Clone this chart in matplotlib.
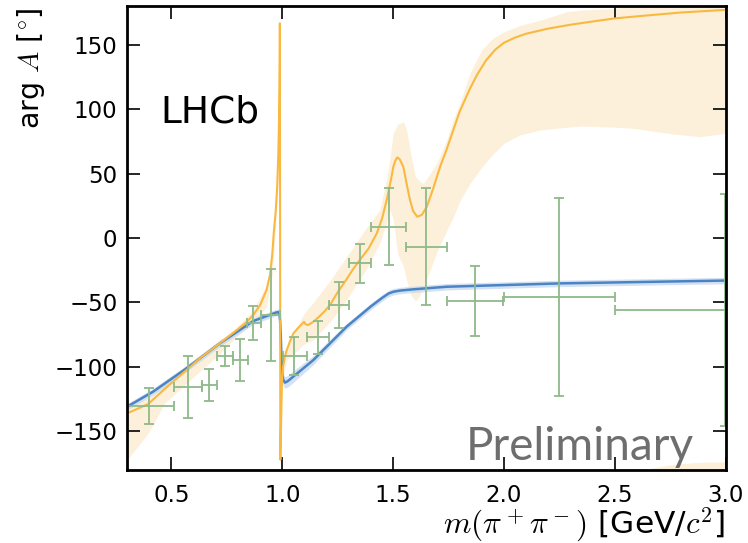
import matplotlib
matplotlib.use('Agg')

import matplotlib.pyplot as plt
import numpy as np

# --- data (x in GeV/c^2, phase in degrees) ---

# yellow model, central line
yel_x = [0.30, 0.395, 0.47, 0.568, 0.63, 0.70, 0.794, 0.84, 0.869, 0.90, 0.929,
         0.945, 0.955, 0.962, 0.970, 0.977, 0.982, 0.985, 0.987, 0.9885, 0.989,
         0.990, 0.991, 0.995, 0.998, 1.003, 1.01, 1.02, 1.035, 1.05, 1.07, 1.09,
         1.098, 1.105, 1.117, 1.14, 1.16, 1.19, 1.215, 1.25, 1.29, 1.32, 1.35,
         1.39, 1.426, 1.45, 1.471, 1.49, 1.501, 1.51, 1.519, 1.53, 1.546, 1.56,
         1.576, 1.59, 1.609, 1.63, 1.652, 1.68, 1.712, 1.74, 1.772, 1.80, 1.847,
         1.88, 1.92, 1.96, 2.0, 2.05, 2.1, 2.2, 2.3, 2.4, 2.5, 2.6, 2.7, 2.8,
         2.9, 3.0]
yel_y = [-136, -128.8, -117, -102.4, -93, -84, -71.5, -65, -59.7, -52, -40.3,
         -28, -12, 5, 20, 40, 65, 90, 115, 140, 166.6,
         40, -172, -140, -115, -100, -93, -87, -80, -74, -70, -66.5,
         -65, -67, -67.5, -65, -62, -57, -52, -42, -32, -24, -17,
         -8, 3.6, 15, 29.5, 45, 55.3, 60, 62.6, 61, 55.3, 43,
         29.5, 21, 16.5, 18, 24.3, 38, 55.3, 68, 84, 98, 116,
         127, 138, 146, 151.5, 155.5, 158.5, 162.5, 165.5, 168, 170.4, 172, 173.5, 175,
         176, 177]

# yellow uncertainty band, split at the f0(980) jump
band1_x = [0.30, 0.395, 0.47, 0.568, 0.65, 0.72, 0.794, 0.869, 0.929, 0.955, 0.975, 0.985]
band1_lo = [-172, -151.5, -128, -112.7, -100, -89.5, -76.5, -66.2, -53.3, -28, 24, 62]
band1_hi = [-131, -124, -112, -98.5, -89, -80, -69, -56, -36, -14, 34, 74]

band2_x = [1.00, 1.02, 1.10, 1.14, 1.22, 1.29, 1.38, 1.44, 1.47, 1.486, 1.50, 1.52,
           1.546, 1.561, 1.58, 1.60, 1.62, 1.637, 1.667, 1.697, 1.74, 1.772, 1.802,
           1.847, 1.90, 1.95, 2.0, 2.073, 2.163, 2.284, 2.359, 2.494, 2.584, 2.75,
           2.886, 3.0]
band2_lo = [-110, -94.7, -82, -79, -64, -48, -24, -4, 12, 21.7, 15, -12,
            -22, -32.6, -44, -49, -45, -37.8, -25, -11, 5, 16.5, 29,
            42.4, 55, 65, 73.5, 80, 83.8, 86, 86.9, 86, 85.1, 81,
            78.6, 81.2]
band2_hi = [-100, -84, -58, -50, -32, -14.5, 8, 21.7, 45, 62, 81, 88,
            90.2, 83.8, 65, 48, 44, 42.4, 50, 58, 75, 92, 105,
            128, 146, 155, 160, 165, 169, 175.6, 177, 178, 180, 180,
            180, 180]

# part of the band that wraps past +180 and shows up at the bottom
wrap_x = [2.62, 2.765, 2.886, 3.0]
wrap_hi = [-180, -175.5, -174, -173.5]

# blue model, central line and its narrow band
blue_x = [0.30, 0.417, 0.568, 0.718, 0.869, 0.974, 0.982, 0.987, 0.990, 0.993, 0.996,
          0.999, 1.004, 1.012, 1.025, 1.049, 1.14, 1.29, 1.40, 1.45, 1.48, 1.501,
          1.53, 1.591, 1.742, 2.253, 3.0]
blue_y = [-130.9, -119.2, -101.1, -81.7, -64.4, -57.7, -57.5, -59, -64, -75, -92,
          -104, -110, -112.2, -111, -107.6, -94.7, -68.8, -53, -46.5, -43, -41.7,
          -40.8, -39.8, -37.8, -35.2, -33]
blue_err = [2.5, 2.5, 2.5, 2.5, 2.5, 2.5, 2.5, 2.5, 3, 3, 3.5,
            4, 4.5, 4.5, 4.5, 4.5, 3.5, 2.5, 2.5, 2.5, 2.5, 2.5,
            2.5, 2.5, 2.5, 2.5, 2.5]

# model-independent points
pts_x = [0.40, 0.575, 0.67, 0.74, 0.81, 0.87, 0.95, 1.055, 1.16, 1.255, 1.35,
         1.48, 1.65, 1.87, 2.25, 2.997]
pts_xlo = [0.10, 0.062, 0.032, 0.035, 0.033, 0.029, 0.047, 0.053, 0.049, 0.044, 0.05,
           0.08, 0.09, 0.128, 0.25, 0.497]
pts_xhi = [0.11, 0.063, 0.035, 0.037, 0.036, 0.033, 0.04, 0.056, 0.051, 0.046, 0.05,
           0.08, 0.092, 0.128, 0.25, 0.5]
pts_y = [-130.4, -115.4, -114.1, -91.4, -94.7, -65.8, -59.8, -91.6, -77.1, -52, -19.7,
         8.8, -6.7, -48.9, -45.6, -56]
pts_err = [14, 24, 12.5, 8, 16, 13, 36, 15, 13, 17.5, 15,
           30, 45.5, 27, 77, 90]

# --- plot ---
plt.rcParams['mathtext.fontset'] = 'cm'
plt.rcParams['font.family'] = 'DejaVu Sans'

fig = plt.figure(figsize=(7.48, 5.43), dpi=100)
ax = fig.add_axes([0.170, 0.1344, 0.800, 0.8545])

yel_c = '#f9b940'
band_c = '#fdf0da'
blue_c = '#4a84c4'
green_c = '#8fba89'

ax.fill_between(band1_x, band1_lo, band1_hi, color=band_c, lw=0, zorder=1)
ax.fill_between(band2_x, band2_lo, band2_hi, color=band_c, lw=0, zorder=1)
ax.fill_between(wrap_x, -180, wrap_hi, color=band_c, lw=0, zorder=1)

bx = np.array(blue_x)
by = np.array(blue_y)
be = np.array(blue_err)
ax.fill_between(bx, by - be, by + be, color='#c9daef', lw=0, alpha=0.8, zorder=2)
ax.plot(bx, by, color=blue_c, lw=1.8, zorder=3)

ax.plot(yel_x, yel_y, color=yel_c, lw=1.5, zorder=3)

ax.errorbar(pts_x, pts_y, yerr=pts_err, xerr=[pts_xlo, pts_xhi], fmt='none',
            ecolor=green_c, elinewidth=1.3, capsize=3.5, capthick=1.3, zorder=4)

ax.set_xlim(0.3, 3.0)
ax.set_ylim(-180, 180)
ax.set_xticks([0.5, 1.0, 1.5, 2.0, 2.5, 3.0])
ax.set_xticklabels(['0.5', '1.0', '1.5', '2.0', '2.5', '3.0'])
ax.set_yticks([-150, -100, -50, 0, 50, 100, 150])
ax.tick_params(direction='in', length=9.5, width=1.2, top=True, right=True,
               labelsize=16.5, pad=10)
ax.tick_params(axis='y', pad=7)
for s in ax.spines.values():
    s.set_linewidth(2)
    s.set_zorder(6)

ax.set_ylabel(r'arg $A$ [$^{\circ}$]', fontsize=20.5)
ax.yaxis.set_label_coords(-0.134, 0.866)
ax.set_xlabel(r'$m(\pi^+\pi^-)$ [GeV/$c^2$]', fontsize=22.5)
ax.xaxis.set_label_coords(1.0, -0.075)
ax.xaxis.label.set_horizontalalignment('right')

ax.text(0.055, 0.75, 'LHCb', transform=ax.transAxes, fontsize=27,
        color='black', ha='left', va='baseline')
ax.text(0.565, 0.022, 'Preliminary', transform=ax.transAxes, fontsize=33,
        family='Lato', color='#555555', alpha=0.85, ha='left', va='baseline',
        zorder=7)

fig.savefig('out.png', dpi=100)
